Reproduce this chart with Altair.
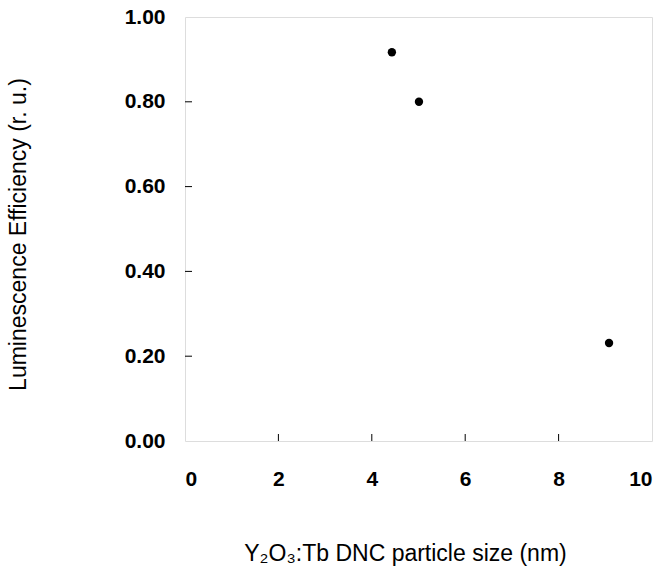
import altair as alt
import pandas as pd

size_nm = [4.43, 5.01, 9.08]
efficiency = [0.917, 0.80, 0.231]
x_ticks = [2, 4, 6, 8]
y_ticks = [0.2, 0.4, 0.6, 0.8]

df = pd.DataFrame({"x": size_nm, "y": efficiency})
W, H = 467, 424
FONT = "Liberation Sans"

x_scale = alt.Scale(domain=[0, 10], nice=False, zero=False)
y_scale = alt.Scale(domain=[0, 1], nice=False, zero=False)

points = alt.Chart(df).mark_circle(size=70, color="black", opacity=1).encode(
    x=alt.X("x:Q", scale=x_scale,
            axis=alt.Axis(title="Y₂O₃:Tb DNC particle size (nm)", values=[0, 2, 4, 6, 8, 10],
                          format="d", ticks=False, domain=False, grid=False,
                          labelFont=FONT, labelFontSize=21, labelFontWeight="bold",
                          labelColor="black", labelPadding=27,
                          titleFont=FONT, titleFontSize=23, titleFontWeight="normal",
                          titleColor="black", titleX=220, titleY=112, titleBaseline="middle")),
    y=alt.Y("y:Q", scale=y_scale,
            axis=alt.Axis(title="Luminescence Efficiency (r. u.)", values=[0, 0.2, 0.4, 0.6, 0.8, 1.0],
                          format=".2f", ticks=False, domain=False, grid=False,
                          labelFont=FONT, labelFontSize=21, labelFontWeight="bold",
                          labelColor="black", labelPadding=20,
                          titleFont=FONT, titleFontSize=23, titleFontWeight="normal",
                          titleColor="black", titleX=-167, titleY=217, titleAngle=-90,
                          titleBaseline="middle", titleAlign="center")),
)

xt = alt.Chart(pd.DataFrame({"t": x_ticks})).mark_rule(color="black", strokeWidth=1).encode(
    x=alt.X("t:Q", scale=x_scale), y=alt.value(H), y2=alt.value(H - 7))
yt = alt.Chart(pd.DataFrame({"t": y_ticks})).mark_rule(color="black", strokeWidth=1).encode(
    y=alt.Y("t:Q", scale=y_scale), x=alt.value(0), x2=alt.value(7))

chart = alt.layer(xt, yt, points).properties(
    width=W, height=H,
    autosize=alt.AutoSizeParams(type="none"),
    padding={"left": 185, "top": 17, "right": 15, "bottom": 135},
).configure_view(stroke="black", strokeWidth=1.2).configure(background="white")

chart.save("out.html", embed_options={"renderer": "svg", "actions": False})
